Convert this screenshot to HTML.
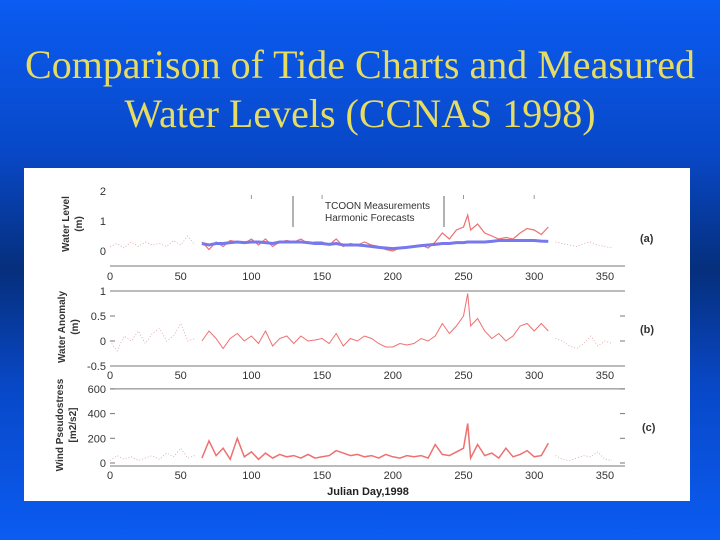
<!DOCTYPE html>
<html><head><meta charset="utf-8"><style>
html,body{margin:0;padding:0}
body{width:720px;height:540px;overflow:hidden;background:linear-gradient(180deg,#0b5cf2 0%,#0848c8 28%,#062f7c 50%,#0848c8 72%,#0b5cf2 100%);position:relative;font-family:"Liberation Sans",sans-serif}
#title{position:absolute;left:0;top:40px;width:720px;text-align:center;font-family:"Liberation Serif",serif;font-size:40px;line-height:49px;color:#e6dc62}
#chart{position:absolute;left:0;top:0}
</style></head><body>
<div id="title">Comparison of Tide Charts and Measured<br>Water Levels (CCNAS 1998)</div>
<svg id="chart" width="720" height="540">
<rect x="24" y="168" width="666" height="333" fill="#fff"/>
<g id="g"></g>
</svg>
<script>
const days=[65,70,75,80,85,90,95,100,105,110,115,120,125,130,135,140,145,150,155,160,165,170,175,180,185,190,195,200,205,210,215,220,225,230,235,240,245,250,253,255,260,265,270,275,280,285,290,295,300,305,310];
const measured=[0.3,0.05,0.3,0.15,0.35,0.3,0.25,0.4,0.2,0.4,0.15,0.3,0.35,0.3,0.4,0.25,0.3,0.3,0.2,0.4,0.15,0.25,0.2,0.3,0.2,0.15,0.05,0.0,0.1,0.1,0.15,0.2,0.1,0.3,0.6,0.4,0.7,0.8,1.2,0.7,0.9,0.6,0.5,0.4,0.45,0.4,0.6,0.75,0.7,0.55,0.8];
const forecast=[0.25,0.2,0.25,0.25,0.28,0.3,0.28,0.3,0.3,0.28,0.25,0.3,0.3,0.3,0.3,0.28,0.25,0.25,0.22,0.25,0.2,0.2,0.2,0.18,0.15,0.12,0.1,0.08,0.1,0.12,0.15,0.18,0.2,0.22,0.25,0.25,0.28,0.28,0.3,0.3,0.3,0.3,0.32,0.35,0.35,0.35,0.35,0.35,0.35,0.33,0.32];
const anomaly=[0.0,0.2,0.05,-0.15,0.05,0.15,0.0,0.1,-0.05,0.2,-0.1,0.05,0.1,-0.05,0.1,0.0,0.02,0.05,-0.05,0.15,-0.1,0.05,0.0,0.1,0.05,-0.05,-0.12,-0.12,-0.05,-0.08,-0.05,0.05,0.0,0.1,0.35,0.15,0.3,0.5,0.95,0.3,0.45,0.2,0.05,0.15,0.0,0.1,0.3,0.35,0.2,0.35,0.2];
const wind=[40,180,60,120,30,200,50,90,30,80,40,70,50,60,40,70,40,50,60,100,80,60,70,50,60,40,70,50,40,60,50,60,40,150,70,60,90,120,320,40,150,60,80,40,120,50,70,100,50,60,160];
const edgeDays=[0,5,10,15,20,25,30,35,40,45,50,55,60,315,320,325,330,335,340,345,350,355];
const edgeLevel=[0.15,0.25,0.1,0.3,0.15,0.3,0.2,0.25,0.15,0.35,0.2,0.5,0.2,0.3,0.25,0.2,0.15,0.25,0.3,0.2,0.15,0.1];
const edgeAnom=[0.0,-0.2,0.1,0.0,0.2,-0.05,0.15,0.25,0.0,0.1,0.35,0.0,0.05,0.05,0.0,-0.1,-0.15,-0.05,0.1,-0.1,0.0,-0.05];
const edgeWind=[20,60,30,50,20,40,60,30,80,50,120,40,60,60,30,20,40,60,50,90,30,20];
const xTicks=[0,50,100,150,200,250,300,350];
const aTicks=[0,1,2], bTicks=[-0.5,0,0.5,1], cTicks=[0,200,400,600];
const X=d=>110+d*1.414;
const Ya=v=>251-30*v, Yb=v=>341-50*v, Yc=v=>463-0.1235*v;
const g=document.getElementById('g');
const NS='http://www.w3.org/2000/svg';
function el(t,a,txt){const e=document.createElementNS(NS,t);for(const k in a)e.setAttribute(k,a[k]);if(txt!==undefined)e.textContent=txt;g.appendChild(e);return e;}
function path(xs,ys,Y,stroke,w,dash){let d='';xs.forEach((x,i)=>{d+=(i?'L':'M')+X(x).toFixed(1)+','+Y(ys[i]).toFixed(1);});const a={d:d,fill:'none',stroke:stroke,'stroke-width':w};if(dash)a['stroke-dasharray']=dash;return el('path',a);}
function edges(Y,vals,name){const n=edgeDays.filter(d=>d<=62).length;
let p=path(edgeDays.slice(0,n),vals.slice(0,n),Y,'#d9a0a0',0.8,'1 2');


p=path(edgeDays.slice(n),vals.slice(n),Y,'#d9a0a0',0.8,'1 2');

}
function xAxis(y,ly,name){let l=el('line',{x1:110,x2:625,y1:y,y2:y,stroke:'#777','stroke-width':1});


xTicks.forEach(t=>{const tx=el('text',{x:X(t),y:ly,'font-size':11,fill:'#333','text-anchor':'middle'},String(t));

});}
function yTicks(ticks,Y,name,dash){ticks.forEach(t=>{const tx=el('text',{x:106,y:Y(t)+4,'font-size':11,fill:'#333','text-anchor':'end'},String(t));


if(dash){el('line',{x1:110,x2:115,y1:Y(t),y2:Y(t),stroke:'#777'});el('line',{x1:620,x2:625,y1:Y(t),y2:Y(t),stroke:'#777'});}});}
function ytitle(x,y,l1,l2,name){const t=el('text',{transform:`translate(${x},${y}) rotate(-90)`,'font-size':10,'font-weight':'bold',fill:'#333','text-anchor':'middle'});


const a=document.createElementNS(NS,'tspan');a.setAttribute('x',0);a.setAttribute('dy',0);a.textContent=l1;t.appendChild(a);
const b=document.createElementNS(NS,'tspan');b.setAttribute('x',0);b.setAttribute('dy',13);b.textContent=l2;t.appendChild(b);}
// panel a
xAxis(266,280,'panel-a');yTicks(aTicks,Ya,'panel-a',false);
[100,150,250,300].forEach(t=>el('line',{x1:X(t),x2:X(t),y1:195,y2:199,stroke:'#999'}));
edges(Ya,edgeLevel,'water-level-dotted');
let p=path(days,measured,Ya,'#ee7070',1.2);


p=path(days,forecast,Ya,'#7878ee',3);


el('line',{x1:293,x2:293,y1:196,y2:227,stroke:'#666'});el('line',{x1:444,x2:444,y1:196,y2:227,stroke:'#666'});
let t=el('text',{x:325,y:209,'font-size':10,fill:'#333'},'TCOON Measurements');


t=el('text',{x:325,y:221,'font-size':10,fill:'#333'},'Harmonic Forecasts');


ytitle(69,224,'Water Level','(m)','panel-a-y-title');
t=el('text',{x:640,y:242,'font-size':11,'font-weight':'bold',fill:'#333'},'(a)');


// panel b
el('line',{x1:110,x2:625,y1:Yb(1),y2:Yb(1),stroke:'#777'});
xAxis(366,379,'panel-b');yTicks(bTicks,Yb,'panel-b',true);
edges(Yb,edgeAnom,'anomaly-dotted');
p=path(days,anomaly,Yb,'#ee7070',1);


ytitle(65,327,'Water Anomaly','(m)','panel-b-y-title');
t=el('text',{x:640,y:333,'font-size':11,'font-weight':'bold',fill:'#333'},'(b)');


// panel c
el('line',{x1:110,x2:625,y1:Yc(600),y2:Yc(600),stroke:'#777'});
xAxis(466,479,'panel-c');yTicks(cTicks,Yc,'panel-c',true);
edges(Yc,edgeWind,'wind-dotted');
p=path(days,wind,Yc,'#ee7070',1.5);


ytitle(63,425,'Wind Pseudostress','[m2/s2]','panel-c-y-title');
t=el('text',{x:642,y:431,'font-size':11,'font-weight':'bold',fill:'#333'},'(c)');


t=el('text',{x:368,y:495,'font-size':11,'font-weight':'bold',fill:'#222','text-anchor':'middle'},'Julian Day,1998');


</script>
</body></html>
